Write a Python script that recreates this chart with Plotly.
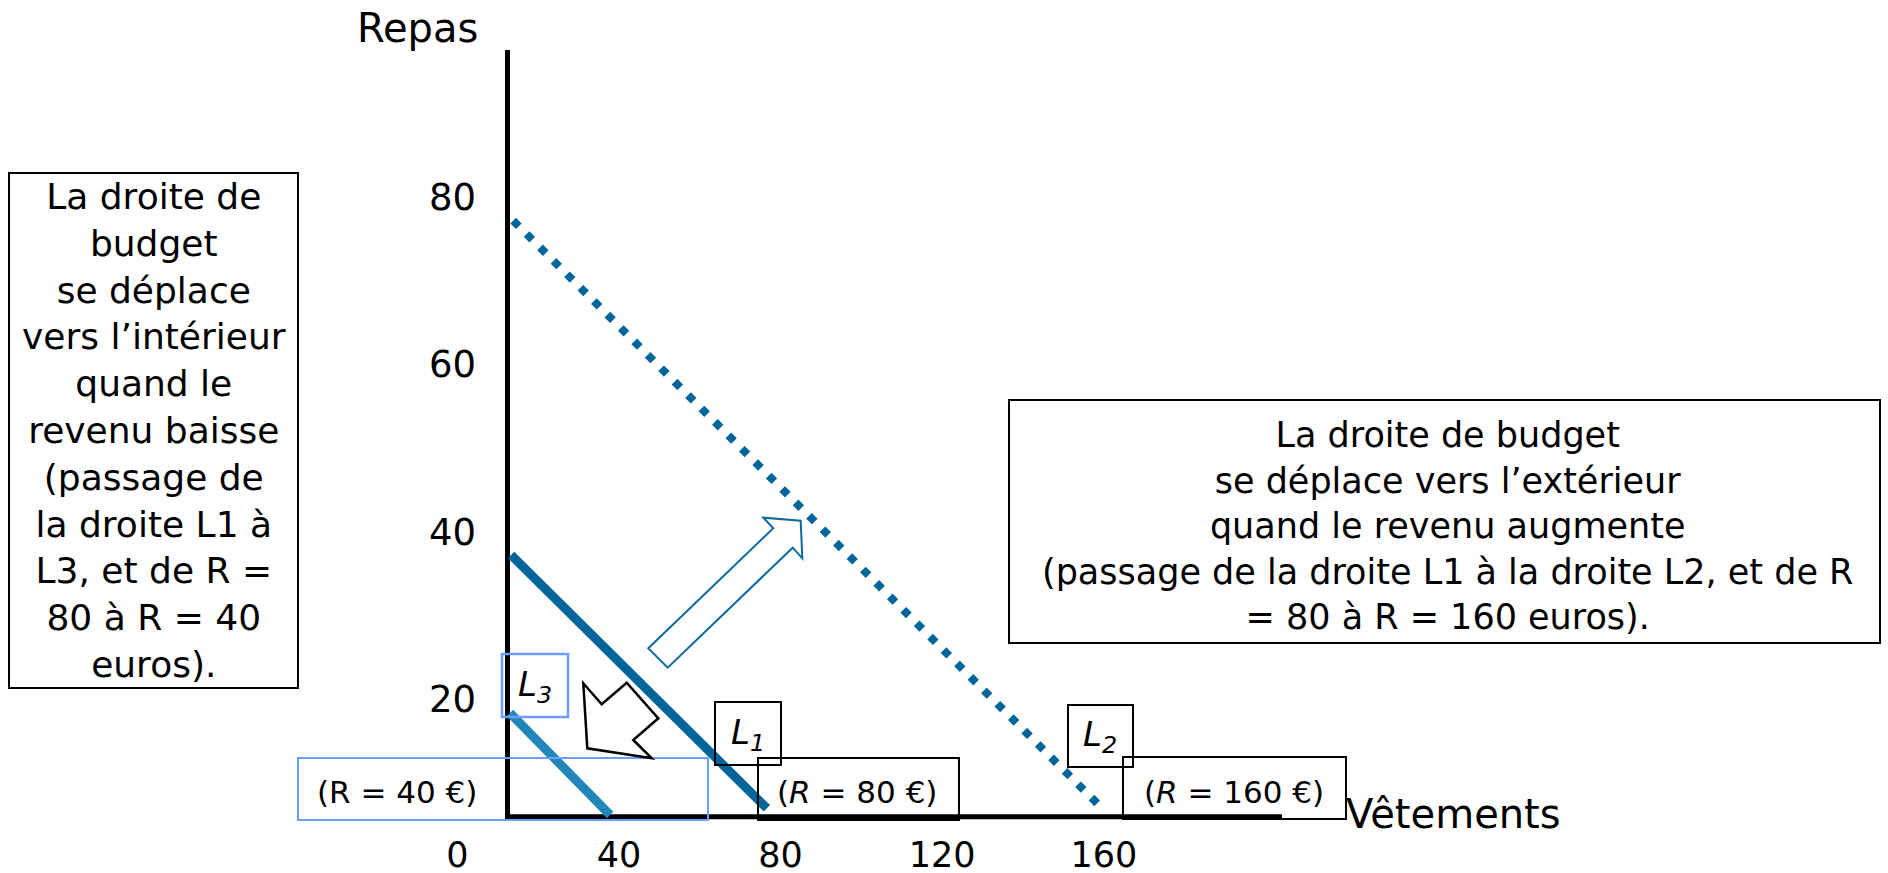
import plotly.graph_objects as go

# ── data (Vêtements on x, Repas on y) ───────────────────────────────
L1_VETEMENTS = [13.3, 76.6]
L1_REPAS = [37.2, 6.9]
L2_VETEMENTS = [13.8, 159.8]
L2_REPAS = [77.2, 6.8]
L3_VETEMENTS = [13.0, 37.8]
L3_REPAS = [18.3, 6.1]

AXES_VETEMENTS = [12.4, 12.4, 204.1]   # drawn axes (corner at the origin of the sketch)
AXES_REPAS = [97.6, 5.9, 5.9]

X_TICKS = [0, 40, 80, 120, 160]
Y_TICKS = [20, 40, 60, 80]

LEFT_TEXT = ["La droite de", "budget", "se déplace", "vers l’intérieur", "quand le",
             "revenu baisse", "(passage de", "la droite L1 à", "L3, et de R =",
             "80 à R = 40", "euros)."]
RIGHT_TEXT = ["La droite de budget", "se déplace vers l’extérieur",
              "quand le revenu augmente",
              "(passage de la droite L1 à la droite L2, et de R",
              "= 80 à R = 160 euros)."]

# ── page geometry ────────────────────────────────────────────────────
W, H = 1888, 873
FONT = "DejaVu Sans"
DARK_BLUE = "#00659B"
LIGHT_BLUE = "#2386BA"
BOX_BLUE = "#6D9EFF"

# scale of the sketch: pixel = origin + units * step
X_PX0, X_STEP = 457.4, 4.04
Y_PX0, Y_STEP = 866.0, 8.36
Y_DOM_TOP, Y_DOM_BOT = 40, 822


def px(x):
    return x / W


def py(y):
    return 1 - y / H


fig = go.Figure()

fig.add_trace(go.Scatter(x=AXES_VETEMENTS, y=AXES_REPAS, mode="lines",
                         line=dict(color="black", width=5), hoverinfo="skip"))
fig.add_trace(go.Scatter(x=L2_VETEMENTS, y=L2_REPAS, mode="lines", name="L2",
                         line=dict(color=DARK_BLUE, width=8, dash="8px,11px")))
fig.add_trace(go.Scatter(x=L1_VETEMENTS, y=L1_REPAS, mode="lines", name="L1",
                         line=dict(color=DARK_BLUE, width=9)))
fig.add_trace(go.Scatter(x=L3_VETEMENTS, y=L3_REPAS, mode="lines", name="L3",
                         line=dict(color=LIGHT_BLUE, width=9)))

# ── boxes ────────────────────────────────────────────────────────────
boxes = [
    ((9, 173, 298, 688), "black", 2),
    ((1009, 400, 1880, 643), "black", 2),
    ((502, 654, 568, 717), BOX_BLUE, 2.5),
    ((715, 702, 781, 765), "black", 2),
    ((1068, 705, 1133, 767), "black", 2),
    ((298, 758, 708, 820), BOX_BLUE, 2),
    ((758, 758, 959, 820), "black", 2),
    ((1123, 757, 1346, 819), "black", 2),
]
for (x0, y0, x1, y1), col, lw in boxes:
    fig.add_shape(type="rect", xref="paper", yref="paper",
                  x0=px(x0), x1=px(x1), y0=py(y1), y1=py(y0),
                  line=dict(color=col, width=lw), fillcolor="rgba(0,0,0,0)")

# ── block arrows ─────────────────────────────────────────────────────
def arrow_path(pts):
    return "M " + " L ".join(f"{px(a):.5f},{py(b):.5f}" for a, b in pts) + " Z"


out_arrow = [(648.3, 648.3), (773.3, 528.3), (763.3, 517.7), (800.7, 520.7),
             (802.3, 558.3), (792.7, 547.7), (667.7, 667.7)]
in_arrow = [(583.3, 683.3), (601.7, 704.3), (626.7, 682.7), (658.3, 718.3),
            (633.3, 740.0), (651.7, 758.3), (587.3, 748.3)]
fig.add_shape(type="path", xref="paper", yref="paper", path=arrow_path(out_arrow),
              line=dict(color="#0E6A9C", width=2), fillcolor="white")
fig.add_shape(type="path", xref="paper", yref="paper", path=arrow_path(in_arrow),
              line=dict(color="black", width=2.5), fillcolor="white")

# ── texts ────────────────────────────────────────────────────────────
def note(text, x, y, size, **kw):
    fig.add_annotation(text=text, x=px(x), y=py(y), xref="paper", yref="paper",
                       showarrow=False, xanchor="center", yanchor="middle",
                       font=dict(family=FONT, size=size, color="black"), **kw)


note("Repas", 417, 28, 40)
note("Vêtements", 1453, 814, 40)
note("<br>".join(LEFT_TEXT), 153.5, 430, 36, align="center")
note("<br>".join(RIGHT_TEXT), 1447, 526, 35, align="center")
note("<i>L<sub>3</sub></i>", 535, 686, 34)
note("<i>L<sub>1</sub></i>", 748, 734, 34)
note("<i>L<sub>2</sub></i>", 1100, 736, 34)
note("(R = 40 €)", 397, 792, 31)
note("(<i>R</i> = 80 €)", 857, 792, 31)
note("(<i>R</i> = 160 €)", 1234, 792, 31)

# ── axes: scale chosen so the ticks fall where the sketch has them ───
fig.update_layout(
    width=W, height=H,
    margin=dict(l=0, r=0, t=0, b=0),
    paper_bgcolor="white", plot_bgcolor="white",
    showlegend=False,
    xaxis=dict(domain=[0, 1],
               range=[(0 - X_PX0) / X_STEP, (W - X_PX0) / X_STEP],
               anchor="y", tickvals=X_TICKS, ticks="outside", ticklen=2,
               tickcolor="rgba(0,0,0,0)", showgrid=False, zeroline=False,
               showline=False, automargin=False,
               tickfont=dict(family=FONT, size=35, color="black")),
    yaxis=dict(domain=[py(Y_DOM_BOT), py(Y_DOM_TOP)],
               range=[(Y_PX0 - Y_DOM_BOT) / Y_STEP, (Y_PX0 - Y_DOM_TOP) / Y_STEP],
               anchor="free", position=px(507.5), tickvals=Y_TICKS,
               ticks="outside", ticklen=24, tickcolor="rgba(0,0,0,0)",
               showgrid=False, zeroline=False, showline=False, automargin=False,
               tickfont=dict(family=FONT, size=37, color="black")),
)

# the page's default 8px body margin would shift the sketch
fig.write_html("out.html", config={"displayModeBar": False},
               post_script="document.body.style.margin='0px';")
